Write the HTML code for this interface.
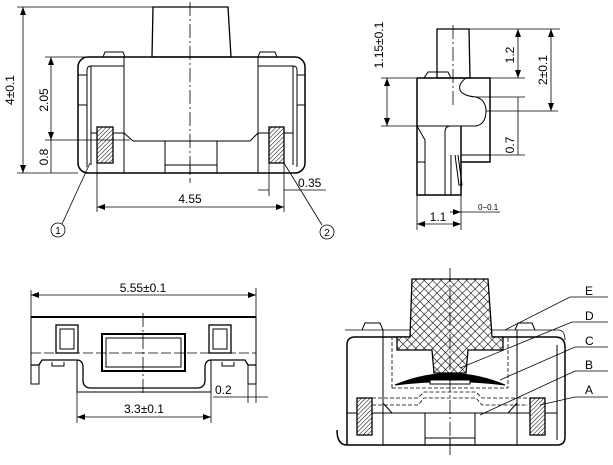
<!DOCTYPE html>
<html><head><meta charset="utf-8"><style>
html,body{margin:0;padding:0;background:#fff;}
svg{display:block;}
text{font-family:"Liberation Sans",sans-serif;font-size:12px;fill:#000;}
</style></head><body>
<svg width="613" height="465" viewBox="0 0 613 465" xmlns="http://www.w3.org/2000/svg">
<defs>
<pattern id="h" width="3" height="3" patternUnits="userSpaceOnUse" patternTransform="rotate(45)"><rect width="3" height="3" fill="#fff"/><line x1="0" y1="0" x2="0" y2="3" stroke="#000" stroke-width="1"/></pattern>
<pattern id="x" width="6" height="6" patternUnits="userSpaceOnUse" patternTransform="rotate(45)"><rect width="6" height="6" fill="#fff"/><line x1="0" y1="0" x2="0" y2="6" stroke="#000" stroke-width="1.1"/><line x1="0" y1="0" x2="6" y2="0" stroke="#000" stroke-width="1.1"/></pattern>
<marker id="a" markerWidth="8" markerHeight="6" refX="8" refY="3" orient="auto-start-reverse" markerUnits="userSpaceOnUse"><path d="M0,0 L8,3 L0,6" fill="#000"/></marker>
</defs>
<g fill="none" stroke="#000" stroke-width="1">
<!-- TOP LEFT -->
<path d="M153,7 L228,7 L231,57 L152,57 Z" stroke-width="1.3"/>
<path d="M103,57 L105,52 L123,52 L125,57 M258,57 L260,52 L275,52 L277,57"/>
<rect x="78" y="57" width="227" height="116" rx="10" stroke-width="1.5"/>
<path d="M87,167 L87,70 Q87,66 91,66 L124,66 M297,167 L297,70 Q297,66 293,66 L258,66"/>
<path d="M91,66 L91,165 M124,57 L124,173 M258,57 L258,173 M293,66 L293,165"/>
<path d="M78,75 L87,75 M78,105 L87,105 M297,75 L305,75 M297,105 L305,105"/>
<path d="M124,133 L133,141 L250,141 L258,133 M91,133 L124,133 M258,133 L293,133"/>
<path d="M165,141 L165,173 M217,141 L217,173 M165,165 L217,165 M190,165 L190,173" />
<rect x="97" y="127" width="16" height="36" fill="url(#h)" stroke-width="1.3"/>
<rect x="269" y="127" width="15" height="36" fill="url(#h)" stroke-width="1.3"/>
<line x1="190" y1="2" x2="190" y2="183" stroke-dasharray="14,3,2,3" stroke-width="0.8"/>
<path d="M17,7 L153,7 M17,173 L78,173 M45,57 L122,57 M45,140 L130,140" stroke-width="0.8"/>
<line x1="23" y1="7" x2="23" y2="173" marker-start="url(#a)" marker-end="url(#a)" stroke-width="0.8"/>
<line x1="51" y1="57" x2="51" y2="140" marker-start="url(#a)" marker-end="url(#a)" stroke-width="0.8"/>
<line x1="51" y1="140" x2="51" y2="173" stroke-width="0.8"/>
<path d="M97,163 L97,212 M284,163 L284,212 M269,163 L269,196" stroke-width="0.8"/>
<line x1="97" y1="207" x2="284" y2="207" marker-start="url(#a)" marker-end="url(#a)" stroke-width="0.8"/>
<path d="M258,190 L269,190 M284,190 L326,190" stroke-width="0.8"/>
<path d="M90,163 L62,224 M284,163 L322,225" stroke-width="0.8"/>
<circle cx="58" cy="230" r="7" stroke-width="0.8"/>
<circle cx="327" cy="232" r="7" stroke-width="0.8"/>
<!-- TOP RIGHT -->
<path d="M437,29 L469,29 L470,78 L437,78 Z" stroke-width="1.3"/>
<path d="M424,78 L428,72 L448,72 L451,78"/>
<path d="M417,78 L490,78 L490,162 L461,162 M417,78 L417,195 L461,195 L461,126" stroke-width="1.5"/>
<path d="M466,78 Q458,84 460,90 Q463,96 476,97 Q486,100 486,111 Q486,124 476,126 L417,126"/>
<path d="M417,126 L425,140 L425,195 M445,195 L445,132 Q445,126 451,126 M451,155 L451,195 M417,162 L425,162 M455,155 L459,185 L462,185 L458,155 M461,155 L490,155"/>
<line x1="453" y1="25" x2="453" y2="108" stroke-dasharray="14,3,2,3" stroke-width="0.8"/>
<path d="M469,29 L560,29 M381,78 L424,78 M490,78 L525,78 M381,126 L417,126 M476,97 L525,97 M486,111 L558,111 M490,155 L525,155" stroke-width="0.8"/>
<line x1="387" y1="78" x2="387" y2="126" marker-start="url(#a)" marker-end="url(#a)" stroke-width="0.8"/>
<line x1="518" y1="29" x2="518" y2="78" marker-start="url(#a)" marker-end="url(#a)" stroke-width="0.8"/>
<line x1="551" y1="29" x2="551" y2="111" marker-start="url(#a)" marker-end="url(#a)" stroke-width="0.8"/>
<path d="M518,97 L518,155" stroke-width="0.8"/>
<path d="M417,195 L417,230 M461,190 L461,230" stroke-width="0.8"/>
<line x1="417" y1="224" x2="461" y2="224" marker-start="url(#a)" marker-end="url(#a)" stroke-width="0.8"/>
<line x1="450" y1="212" x2="461" y2="212" marker-end="url(#a)" stroke-width="0.8"/>
<path d="M461,212 L500,212" stroke-width="0.8"/>
<!-- BOTTOM LEFT -->
<path d="M31,290 L31,370 M256,288 L256,403 M248,370 L248,403" stroke-width="0.8"/>
<line x1="31" y1="295" x2="256" y2="295" marker-start="url(#a)" marker-end="url(#a)" stroke-width="0.8"/>
<path d="M31,317 L256,317" stroke-width="2"/>
<path d="M31,317 L31,384 L39,384 L39,365 M256,317 L256,384 L248,384 L248,365"/>
<path d="M31,365 L39,365 L42,360 L77,360 Q83,360 83,368 L83,380 Q83,388 91,388 L197,388 Q205,388 205,380 L205,368 Q205,360 211,360 L245,360 L248,365 L256,365" stroke-width="1.3"/>
<path d="M77,360 L77,392 L211,392 L211,360"/>
<path d="M52,362 L52,366 L64,366 L64,362 M222,362 L222,366 L234,366 L234,362"/>
<rect x="56" y="325" width="22" height="28" stroke-width="1.3"/><rect x="60" y="329" width="14" height="20"/>
<rect x="209" y="325" width="22" height="28" stroke-width="1.3"/><rect x="213" y="329" width="14" height="20"/>
<rect x="102" y="334" width="83" height="37" stroke-width="2"/><rect x="106" y="338" width="75" height="29"/>
<line x1="31" y1="353" x2="256" y2="353" stroke-dasharray="10,3" stroke-width="0.8"/>
<line x1="143" y1="313" x2="143" y2="393" stroke-dasharray="14,3,2,3" stroke-width="0.8"/>
<path d="M77,392 L77,423 M211,392 L211,423" stroke-width="0.8"/>
<line x1="77" y1="417" x2="211" y2="417" marker-start="url(#a)" marker-end="url(#a)" stroke-width="0.8"/>
<path d="M213,397 L268,397" stroke-width="0.8"/>
<!-- BOTTOM RIGHT -->
<path d="M345,330 L558,330 Q565,330 565,340" stroke-width="0.8"/>
<path d="M362,330 L365,323 L380,323 L383,330 M515,330 L518,323 L532,323 L535,330"/>
<path d="M347,445 L347,345 Q347,337 355,337 L555,337 Q565,337 565,347 L565,437 Q565,445 557,445 L347,445 Q337,445 337,430" stroke-width="1.5"/>
<path d="M557,345 L557,440 M383,330 L383,445 M517,330 L517,445"/>
<path d="M347,413 L397,413 M503,413 L557,413 M383,403 L392,413 L508,413 L517,403 M425,413 L425,445 M475,413 L475,445 M425,438 L475,438 M450,438 L450,445"/>
<path d="M392,388 L392,337 L508,337 L508,388 Z" stroke-dasharray="4,2" stroke-width="0.8"/>
<path d="M372,398 L418,398 L424,392 L476,392 L482,398 L528,398 M372,405 L418,405 L424,398 L476,398 L482,405 L528,405" stroke-dasharray="4,2" stroke-width="0.8"/>
<path d="M395,385 Q450,362 505,385 Q450,378 395,385 Z" fill="#000"/>
<path d="M430,384 L470,384 L470,380 L430,380 Z" fill="#fff"/>
<path d="M412,279 L488,279 L492,337 L503,337 L503,350 L468,350 L466,373 L434,373 L432,350 L397,350 L397,337 L410,337 Z" fill="url(#x)" stroke-width="1.3"/>
<rect x="357" y="398" width="15" height="37" fill="url(#h)" stroke-width="1.3"/>
<rect x="530" y="398" width="15" height="37" fill="url(#h)" stroke-width="1.3"/>
<line x1="450" y1="268" x2="450" y2="455" stroke-dasharray="14,3,2,3" stroke-width="0.8"/>
<path d="M505,330 L570,297 L608,297 M460,368 L572,322 L608,322 M500,380 L575,347 L608,347 M480,415 L575,371 L608,371 M540,405 L575,397 L608,397" stroke-width="0.8"/>
</g>
<text transform="translate(14,90) rotate(-90)" text-anchor="middle">4±0.1</text>
<text transform="translate(48,100) rotate(-90)" text-anchor="middle">2.05</text>
<text transform="translate(48,157) rotate(-90)" text-anchor="middle">0.8</text>
<text x="190" y="203" text-anchor="middle">4.55</text>
<text x="298" y="187">0.35</text>
<text x="58" y="234" text-anchor="middle" style="font-size:10px">1</text>
<text x="327" y="236" text-anchor="middle" style="font-size:10px">2</text>
<text transform="translate(383,45) rotate(-90)" text-anchor="middle">1.15±0.1</text>
<text transform="translate(514,55) rotate(-90)" text-anchor="middle">1.2</text>
<text transform="translate(547,70) rotate(-90)" text-anchor="middle">2±0.1</text>
<text transform="translate(514,145) rotate(-90)" text-anchor="middle">0.7</text>
<text x="438" y="221" text-anchor="middle">1.1</text>
<text x="478" y="210" style="font-size:8px">0−0.1</text>
<text x="143" y="292" text-anchor="middle">5.55±0.1</text>
<text x="144" y="413" text-anchor="middle">3.3±0.1</text>
<text x="215" y="394">0.2</text>
<text x="585" y="295">E</text>
<text x="585" y="320">D</text>
<text x="585" y="345">C</text>
<text x="585" y="369">B</text>
<text x="585" y="394">A</text>
</svg>
</body></html>
